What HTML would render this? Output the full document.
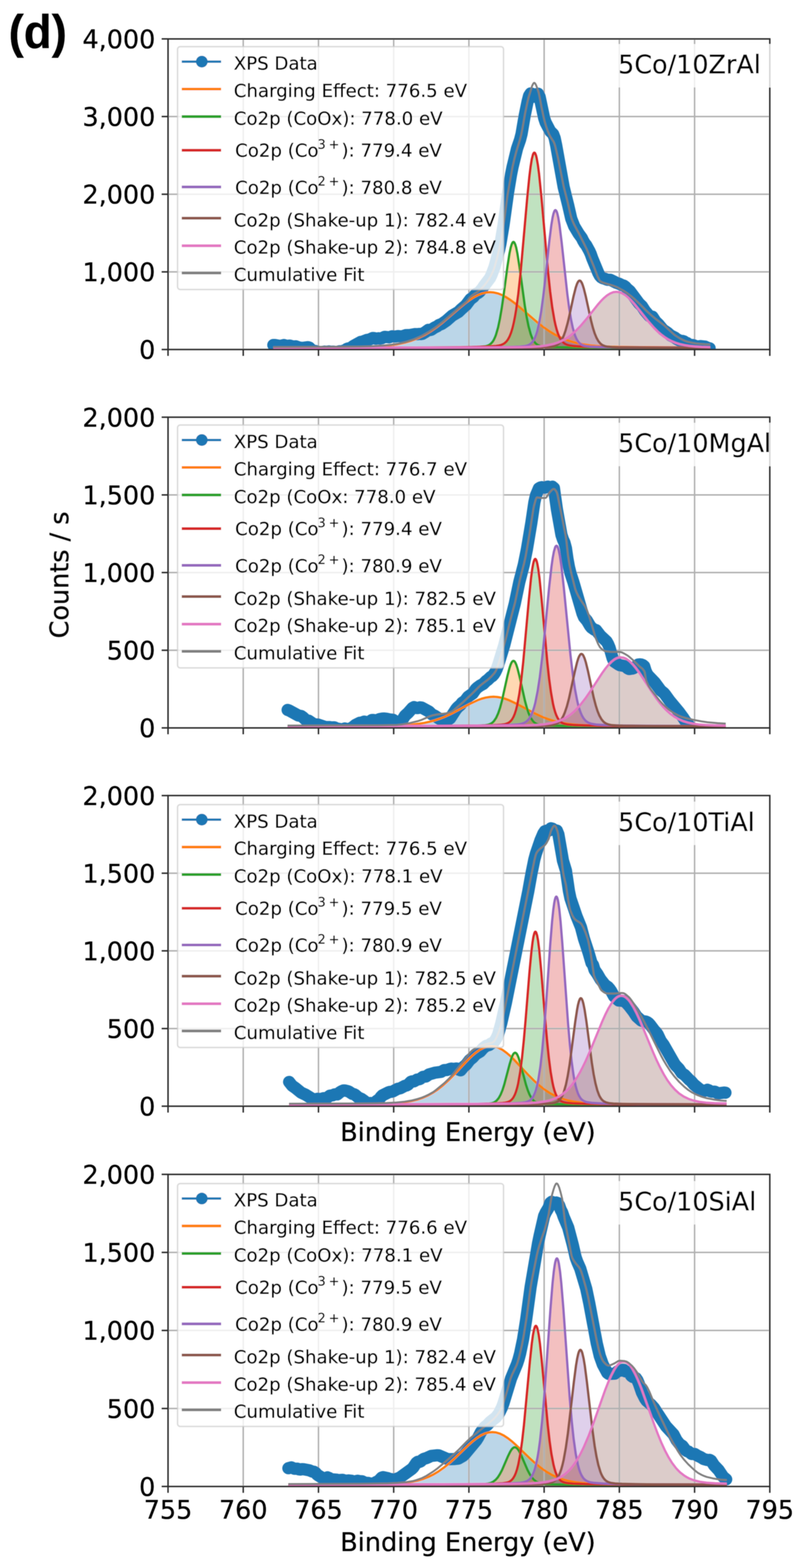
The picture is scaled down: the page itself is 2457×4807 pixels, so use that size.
<!DOCTYPE html><html><head><meta charset="utf-8"><style>html,body{margin:0;padding:0;background:#fff}svg{display:block}text{stroke:#000;stroke-width:0.7px}</style></head><body><svg xmlns="http://www.w3.org/2000/svg" width="2457" height="4807" viewBox="0 0 2457 4807">
<rect width="100%" height="100%" fill="#fff"/>
<defs>
<clipPath id="cp0"><rect x="515.4" y="119.3" width="1845.9" height="952.2"/></clipPath>
<clipPath id="cp1"><rect x="515.4" y="1279.0" width="1845.9" height="952.6"/></clipPath>
<clipPath id="cp2"><rect x="515.4" y="2438.9" width="1845.9" height="952.4"/></clipPath>
<clipPath id="cp3"><rect x="515.4" y="3600.3" width="1845.9" height="956.8"/></clipPath>
<filter id="bl" x="0" y="0" width="2457" height="4807" filterUnits="userSpaceOnUse"><feGaussianBlur stdDeviation="1.0"/></filter>
</defs>
<g filter="url(#bl)">
<g font-family="DejaVu Sans, sans-serif">
<g clip-path="url(#cp0)">
<path d="M838.4 1065.3l209.5-0.7 50.8-0.6 36.9-1.0 32.3-1.7 27.7-2.5 24-3.6 22.2-4.8 21.2-6.3 20.3-8.0 20.3-10.1 19.4-11.8 16.6-11.6 17.5-13.7 52.6-45.1 15.7-13.0 14.8-11.0 12.9-8.4 12.9-6.8 13-5.0 12-2.8 12-1.0 12 1.0 12 2.8 12.9 5.0 12.9 6.8 12.9 8.4 14.8 11.0 15.7 13.0 52.6 45.1 17.5 13.7 16.6 11.6 19.4 11.8 20.3 10.1 20.3 8.0 22.2 6.6 22.1 4.7 24 3.5 27.7 2.5 33.2 1.7 89.6 1.5 216.9 0.8V1071.5H838.4Z" fill="#1f77b4" fill-opacity="0.3"/>
<path d="M838.4 1066.0l406.1-0.2 157.9-0.7 43.3-0.7 27.7-1.1 13.9-1.5 5.5-1.2 4.6-1.6 4.6-2.5 4.6-3.7 4.7-5.5 3.7-6.0 3.6-7.8 2.8-7.3 6.5-22.5 5.5-26.1 5.6-32.4 5.5-37.9 12-89.2 6.4-41.2 3.7-17.7 2.8-9.5 2.8-5.9 1.8-1.8 0.9-0.2 1 0.2 1.8 1.8 2.8 5.9 2.8 9.5 3.6 17.7 6.5 41.2 16.6 121.1 5.6 33.5 5.5 27.1 6.5 23.7 2.7 7.7 3.7 8.3 3.7 6.5 3.7 4.8 3.7 3.6 4.6 3.2 8.3 3.3 12 1.9 20.3 1.2 35.1 0.8 131 0.9 322.2 0.2V1071.5H838.4Z" fill="#ff7f0e" fill-opacity="0.3"/>
<path d="M838.4 1065.9l434.7-0.4 103.4-0.6 69.2-0.9 47.1-1.4 28.6-1.9 8.3-1.3 7.4-1.8 5.5-2.3 5.6-3.4 5.5-5.2 4.6-6.2 4.6-8.5 4.7-11.6 4.6-15.2 3.7-15.4 3.7-18.5 3.7-22.0 6.4-47.4 7.4-68.0 20.3-228.7 6.5-64.4 3.7-29.7 3.6-22.7 3.7-14.6 1.9-4.0 1.8-1.7 1.9 0.6 1.8 2.9 1.9 5.1 1.8 7.3 3.7 20.8 3.7 28.0 7.4 72.4 20.3 228.7 6.4 60.2 6.5 49.1 6.5 37.8 3.7 16.9 3.7 13.9 3.6 11.2 3.7 9.0 4.6 8.5 4.7 6.2 4.6 4.5 4.6 3.1 5.5 2.6 5.6 1.7 15.7 2.5 27.6 1.7 49 1.3 70.1 0.9 271.4 0.8V1071.5H838.4Z" fill="#2ca02c" fill-opacity="0.3"/>
<path d="M838.4 1066.0l489.2-0.3 183.7-0.8 50.7-0.8 33.3-1.4 15.6-1.8 6.5-1.6 4.6-1.9 5.6-3.5 4.6-4.4 4.6-6.5 3.7-7.1 3.7-9.1 3.7-11.7 6.4-27.6 5.6-31.8 6.4-46.9 5.6-47.4 12.9-120.2 6.4-51.3 3.7-22.3 2.8-12.3 2.8-7.8 1.8-2.7 0.9-0.5 1 0.0 1.8 1.6 1.9 3.7 1.8 5.7 2.8 12.3 3.7 22.3 6.4 51.3 17.6 160.1 5.5 42.0 5.5 34.5 5.6 26.6 6.4 22.4 3.7 9.1 3.7 7.1 3.7 5.4 4.6 4.8 3.7 2.7 3.7 2.0 4.6 1.7 5.6 1.3 14.7 1.8 24.9 1.1 42.5 0.9 61.8 0.6 238.2 0.5V1071.5H838.4Z" fill="#d62728" fill-opacity="0.3"/>
<path d="M838.4 1066.0l738.4-0.4 91.4-1.1 17.5-0.8 11.1-1.6 5.5-1.5 4.6-2.0 4.6-3.0 3.7-3.3 3.7-4.3 3.7-5.5 6.5-13.2 5.5-15.5 6.5-23.0 5.5-23.6 12.9-59.9 6.5-25.5 3.7-11.0 2.8-5.8 2.7-3.7 2.8-1.2 2.8 1.2 3.7 5.4 2.7 6.6 3.7 11.7 5.6 22.3 16.6 76.0 5.5 21.3 5.5 17.4 5.6 13.5 5.5 9.9 6.5 7.8 3.7 3.1 3.7 2.3 7.3 2.9 8.4 1.6 12 1.0 18.4 0.6 88.6 0.9 194.8 0.3V1071.5H838.4Z" fill="#9467bd" fill-opacity="0.3"/>
<path d="M838.4 1065.9l486.4-0.3 230.8-0.8 46.1-0.6 30.5-1.0 24-1.5 20.3-2.6 21.2-4.5 9.2-2.9 9.3-3.5 16.6-8.2 8.3-5.2 8.3-5.9 15.7-13.4 16.6-17.2 15.7-18.5 36-45.4 10.1-11.6 8.3-8.4 10.2-8.7 10.1-6.3 9.3-3.6 9.2-1.2 8.3 1.0 9.2 3.3 9.3 5.5 10.1 8.3 8.3 8.2 10.2 11.3 40.6 51.0 19.4 22.1 11 11.0 10.2 8.9 10.1 7.7 10.2 6.6 12 6.3 12 5.0 12.9 4.0 14.8 3.4 14.7 2.3 17.6 1.7 20.3 1.2 26.8 0.8V1071.5H838.4Z" fill="#8c564b" fill-opacity="0.3"/>
<path d="M515.4 119.3V1071.5M746.1 119.3V1071.5M976.9 119.3V1071.5M1207.6 119.3V1071.5M1438.3 119.3V1071.5M1669.1 119.3V1071.5M1899.8 119.3V1071.5M2130.6 119.3V1071.5M2361.3 119.3V1071.5M515.4 1071.5H2361.3M515.4 833.5H2361.3M515.4 595.4H2361.3M515.4 357.3H2361.3M515.4 119.3H2361.3" stroke="#b0b0b0" stroke-width="4.46" fill="none"/>
<path d="M838.4 1057.7l4.6 0.1 13.9 2.5 4.6-0.1 9.2-2.4 9.3 2.7 9.2-1.0 9.2 2.7 9.3-0.4 9.2 3.3 9.2 1.7 18.5-2.4 4.6 1.5 9.2 9.9 4.6 1.1 4.6-0.9 9.3 3.0 4.6 0.5 4.6 0.3 9.2-2.0 4.6 0.7 9.3-1.2 4.6 1.0 9.2-0.4 9.3 1.5 9.2-2.6 4.6 0.6 13.8-4.4 4.7-3.8 4.6-1.1 4.6 0.0 9.2-6.9 23.1-12.8 4.6-0.7 13.8-5.2 9.3-1.8 9.2-4.4 4.6 0.1 4.6 2.1 9.3-1.4 4.6 1.0 4.6-0.9 9.2-4.5 13.9 1.5 9.2-3.3 9.2 0.9 9.3-1.4 9.2 0.9 4.6-0.8 9.2-3.0 13.9-0.5 13.8-2.7 9.2 0.1 4.7-0.7 4.6 0.5 4.6-0.7 9.2-5.4 9.3-6.8 4.6 0.5 4.6-0.9 9.2-6.3 9.2-4.4 4.7-3.6 9.2-3.7 13.8-9.5 18.5-16.2 18.4-10.6 9.3-9.1 13.8-11.7 13.9-18.5 9.2-6.8 4.6-5.9 4.6-4.3 4.6-1.8 4.7-3.5 9.2-11.0 4.6-7.2 18.5-24.3 4.6-9.5 9.2-24.4 13.8-50.8 4.7-22.0 9.2-55.5 13.8-99.2 9.3-56.1 4.6-22.9 13.8-56.6 9.3-27.1 4.6-18.1 9.2-53.9 9.2-45.0 4.6-17.7 4.7-7.2 4.6 1.2 4.6 8.5 4.6 0.3 4.6-6.4 4.6-2.9 4.6 9.3 13.9 65.3 4.6 13.7 13.8 26.4 9.3 9.3 4.6 12.2 4.6 22.0 23.1 128.3 13.8 55.7 9.3 40.8 9.2 23.7 13.8 22.8 9.3 12.6 4.6 9.4 4.6 7.7 4.6 5.6 9.2 16.7 4.6 10.0 4.7 13.4 18.4 44.5 4.6 8.5 4.6 5.1 4.7 2.8 4.6 1.0 9.2 3.7 9.2 0.0 18.5 9.2 9.2 3.3 9.3 4.4 4.6 1.3 4.6 3.3 4.6 5.4 9.2 7.7 27.7 37.4 9.2 8.8 9.3 14.4 13.8 16.1 9.2 2.0 9.3 14.3 9.2 8.8 13.9 16.7 13.8 9.3 9.2 8.2 13.9 7.0 4.6 3.7 9.2 4.9 4.6 2.0 4.6-0.7 4.7 1.6 4.6 3.6 4.6 1.4 9.2 6.3 9.2-0.4 9.3 4.0 4.6 0.6 9.2-1.2 13.9 1.6 9.2 4.3 4.6 0.7" fill="none" stroke="#1f77b4" stroke-width="37.5" stroke-linejoin="round" stroke-linecap="round"/>
<path d="M838.4 1065.3l209.5-0.7 50.8-0.6 36.9-1.0 32.3-1.7 27.7-2.5 24-3.6 22.2-4.8 21.2-6.3 20.3-8.0 20.3-10.1 19.4-11.8 16.6-11.6 17.5-13.7 52.6-45.1 15.7-13.0 14.8-11.0 12.9-8.4 12.9-6.8 13-5.0 12-2.8 12-1.0 12 1.0 12 2.8 12.9 5.0 12.9 6.8 12.9 8.4 14.8 11.0 15.7 13.0 52.6 45.1 17.5 13.7 16.6 11.6 19.4 11.8 20.3 10.1 20.3 8.0 22.2 6.6 22.1 4.7 24 3.5 27.7 2.5 33.2 1.7 89.6 1.5 216.9 0.8" fill="none" stroke="#ff7f0e" stroke-width="7.0" stroke-linejoin="round"/>
<path d="M838.4 1066.0l406.1-0.2 157.9-0.7 43.3-0.7 27.7-1.1 13.9-1.5 5.5-1.2 4.6-1.6 4.6-2.5 4.6-3.7 4.7-5.5 3.7-6.0 3.6-7.8 2.8-7.3 6.5-22.5 5.5-26.1 5.6-32.4 5.5-37.9 12-89.2 6.4-41.2 3.7-17.7 2.8-9.5 2.8-5.9 1.8-1.8 0.9-0.2 1 0.2 1.8 1.8 2.8 5.9 2.8 9.5 3.6 17.7 6.5 41.2 16.6 121.1 5.6 33.5 5.5 27.1 6.5 23.7 2.7 7.7 3.7 8.3 3.7 6.5 3.7 4.8 3.7 3.6 4.6 3.2 8.3 3.3 12 1.9 20.3 1.2 35.1 0.8 131 0.9 322.2 0.2" fill="none" stroke="#2ca02c" stroke-width="7.0" stroke-linejoin="round"/>
<path d="M838.4 1065.9l434.7-0.4 103.4-0.6 69.2-0.9 47.1-1.4 28.6-1.9 8.3-1.3 7.4-1.8 5.5-2.3 5.6-3.4 5.5-5.2 4.6-6.2 4.6-8.5 4.7-11.6 4.6-15.2 3.7-15.4 3.7-18.5 3.7-22.0 6.4-47.4 7.4-68.0 20.3-228.7 6.5-64.4 3.7-29.7 3.6-22.7 3.7-14.6 1.9-4.0 1.8-1.7 1.9 0.6 1.8 2.9 1.9 5.1 1.8 7.3 3.7 20.8 3.7 28.0 7.4 72.4 20.3 228.7 6.4 60.2 6.5 49.1 6.5 37.8 3.7 16.9 3.7 13.9 3.6 11.2 3.7 9.0 4.6 8.5 4.7 6.2 4.6 4.5 4.6 3.1 5.5 2.6 5.6 1.7 15.7 2.5 27.6 1.7 49 1.3 70.1 0.9 271.4 0.8" fill="none" stroke="#d62728" stroke-width="7.0" stroke-linejoin="round"/>
<path d="M838.4 1066.0l489.2-0.3 183.7-0.8 50.7-0.8 33.3-1.4 15.6-1.8 6.5-1.6 4.6-1.9 5.6-3.5 4.6-4.4 4.6-6.5 3.7-7.1 3.7-9.1 3.7-11.7 6.4-27.6 5.6-31.8 6.4-46.9 5.6-47.4 12.9-120.2 6.4-51.3 3.7-22.3 2.8-12.3 2.8-7.8 1.8-2.7 0.9-0.5 1 0.0 1.8 1.6 1.9 3.7 1.8 5.7 2.8 12.3 3.7 22.3 6.4 51.3 17.6 160.1 5.5 42.0 5.5 34.5 5.6 26.6 6.4 22.4 3.7 9.1 3.7 7.1 3.7 5.4 4.6 4.8 3.7 2.7 3.7 2.0 4.6 1.7 5.6 1.3 14.7 1.8 24.9 1.1 42.5 0.9 61.8 0.6 238.2 0.5" fill="none" stroke="#9467bd" stroke-width="7.0" stroke-linejoin="round"/>
<path d="M838.4 1066.0l738.4-0.4 91.4-1.1 17.5-0.8 11.1-1.6 5.5-1.5 4.6-2.0 4.6-3.0 3.7-3.3 3.7-4.3 3.7-5.5 6.5-13.2 5.5-15.5 6.5-23.0 5.5-23.6 12.9-59.9 6.5-25.5 3.7-11.0 2.8-5.8 2.7-3.7 2.8-1.2 2.8 1.2 3.7 5.4 2.7 6.6 3.7 11.7 5.6 22.3 16.6 76.0 5.5 21.3 5.5 17.4 5.6 13.5 5.5 9.9 6.5 7.8 3.7 3.1 3.7 2.3 7.3 2.9 8.4 1.6 12 1.0 18.4 0.6 88.6 0.9 194.8 0.3" fill="none" stroke="#8c564b" stroke-width="7.0" stroke-linejoin="round"/>
<path d="M838.4 1065.9l486.4-0.3 230.8-0.8 46.1-0.6 30.5-1.0 24-1.5 20.3-2.6 21.2-4.5 9.2-2.9 9.3-3.5 16.6-8.2 8.3-5.2 8.3-5.9 15.7-13.4 16.6-17.2 15.7-18.5 36-45.4 10.1-11.6 8.3-8.4 10.2-8.7 10.1-6.3 9.3-3.6 9.2-1.2 8.3 1.0 9.2 3.3 9.3 5.5 10.1 8.3 8.3 8.2 10.2 11.3 40.6 51.0 19.4 22.1 11 11.0 10.2 8.9 10.1 7.7 10.2 6.6 12 6.3 12 5.0 12.9 4.0 14.8 3.4 14.7 2.3 17.6 1.7 20.3 1.2 26.8 0.8" fill="none" stroke="#e377c2" stroke-width="7.0" stroke-linejoin="round"/>
<path d="M838.4 1063.8l214.2-0.8 50.7-0.6 36.9-1.1 33.3-1.9 27.7-2.8 24.9-4.1 22.1-5.3 22.2-7.3 21.2-9.2 21.2-11.6 21.3-14.0 12.9-9.6 14.7-11.8 49.9-43.0 19.4-15.7 9.2-11.5 6.5-6.6 5.5-4.2 14.8-9.5 11-10.0 8.3-9.1 7.4-9.5 6.5-9.6 6.4-11.4 5.6-11.7 3.7-9.3 8.3-29.3 8.3-35.1 6.5-33.8 8.3-53.5 9.2-71.1 15.7-88.2 5.5-24.0 6.5-24.6 10.1-33.0 4.6-17.5 3.7-18.7 8.3-47.5 6.5-31.2 3.7-15.5 11.1-36.2 3.7-7.4 1.8-1.7 0.9-0.3 1 0.2 1.8 1.6 2.8 4.8 3.7 9.4 4.6 14.1 2.7 12.8 5.6 30.4 6.4 30.4 3.7 15.4 4.6 15.4 4.7 13.0 4.6 11.0 3.7 7.1 9.2 14.2 2.8 6.1 2.7 8.7 8.3 35.0 17.6 88.7 12 46.7 8.3 36.9 3.7 13.3 3.7 9.7 4.6 10.1 13.8 25.5 24.9 50.3 22.2 54.1 11.1 29.6 5.5 11.0 2.8 3.1 7.4 3.8 33.2 10.0 11.1 4.4 17.5 9.4 12.9 8.5 12.9 9.9 11.1 9.7 13.9 13.1 20.3 20.7 19.3 17.5 10.2 8.3 25.8 19.6 29.6 27.5 5.5 4.1 12.9 8.0 9.3 4.9 8.3 3.6 6.4 2.1 13.9 3.2 11.1 1.9 10.1 1.2 19.4 1.4 14.8 0.4" fill="none" stroke="#7f7f7f" stroke-width="5.8" stroke-linejoin="round"/>
</g>
<rect x="515.4" y="119.3" width="1845.9" height="952.2" fill="none" stroke="#2a2a2a" stroke-width="4.46"/>
<path d="M515.4 1071.5v19.5M746.1 1071.5v19.5M976.9 1071.5v19.5M1207.6 1071.5v19.5M1438.3 1071.5v19.5M1669.1 1071.5v19.5M1899.8 1071.5v19.5M2130.6 1071.5v19.5M2361.3 1071.5v19.5M515.4 1071.5h-19.5M515.4 833.5h-19.5M515.4 595.4h-19.5M515.4 357.3h-19.5M515.4 119.3h-19.5" stroke="#2a2a2a" stroke-width="4.46"/>
<text x="476.4" y="1100.1" font-size="78" text-anchor="end">0</text>
<text x="476.4" y="862.1" font-size="78" text-anchor="end">1,000</text>
<text x="476.4" y="624.0" font-size="78" text-anchor="end">2,000</text>
<text x="476.4" y="385.9" font-size="78" text-anchor="end">3,000</text>
<text x="476.4" y="147.9" font-size="78" text-anchor="end">4,000</text>
<rect x="1863.0" y="135.0" width="503.9" height="133" fill="#fff" fill-opacity="0.8"/>
<text x="1896.0" y="225.0" font-size="78">5Co/10ZrAl</text>
<rect x="544.7" y="143.0" width="999.8" height="744.5" rx="8" fill="#fff" fill-opacity="0.8" stroke="#ccc" stroke-opacity="0.7" stroke-width="4.5"/>
<path d="M557.6 188.9H678.2" stroke="#1f77b4" stroke-width="7"/>
<path d="M557.6 273.0H678.2" stroke="#ff7f0e" stroke-width="8.2"/>
<path d="M557.6 357.4H678.2" stroke="#2ca02c" stroke-width="8.2"/>
<path d="M557.6 460.7H678.2" stroke="#d62728" stroke-width="8.2"/>
<path d="M557.6 573.2H678.2" stroke="#9467bd" stroke-width="8.2"/>
<path d="M557.6 668.8H678.2" stroke="#8c564b" stroke-width="8.2"/>
<path d="M557.6 753.3H678.2" stroke="#e377c2" stroke-width="8.2"/>
<path d="M557.6 836.8H678.2" stroke="#7f7f7f" stroke-width="8.2"/>
<circle cx="619" cy="188.9" r="18" fill="#1f77b4"/>
<text x="717.0" y="213.0" font-size="55.7">XPS Data</text>
<text x="717.0" y="296.5" font-size="55.7">Charging Effect: 776.5 eV</text>
<text x="717.0" y="381.5" font-size="55.7">Co2p (CoOx): 778.0 eV</text>
<text y="480.3" font-size="55.7"><tspan x="721.0">Co2p (Co</tspan><tspan x="974.2" y="455.5" font-size="39">3</tspan><tspan x="1008.3" font-size="39">+</tspan><tspan x="1047.6" y="480.3">): 779.4 eV</tspan></text>
<text y="593.6" font-size="55.7"><tspan x="721.0">Co2p (Co</tspan><tspan x="974.2" y="568.8" font-size="39">2</tspan><tspan x="1008.3" font-size="39">+</tspan><tspan x="1047.6" y="593.6">): 780.8 eV</tspan></text>
<text x="717.0" y="693.8" font-size="55.7">Co2p (Shake-up 1): 782.4 eV</text>
<text x="717.0" y="777.4" font-size="55.7">Co2p (Shake-up 2): 784.8 eV</text>
<text x="717.0" y="861.0" font-size="55.7">Cumulative Fit</text>
<g clip-path="url(#cp1)">
<path d="M882.3 2225.8l219.6-0.3 87.7-0.7 30.5-0.8 24.9-1.2 21.2-1.7 19.4-2.3 16.6-2.7 15.7-3.4 15.7-4.3 14.8-5.0 16.6-6.5 17.5-8.1 59.1-31.2 23.1-10.8 12.9-4.8 12.9-3.4 12-1.9 11.1-0.6 11 0.7 12 2.0 12 3.2 13 4.8 23 10.8 59.1 31.2 17.5 8.1 17.6 6.9 15.7 5.1 16.6 4.4 17.5 3.6 18.5 2.8 20.3 2.1 22.1 1.5 60 1.7 108.9 0.6 267.7 0.3V2231.6H882.3Z" fill="#1f77b4" fill-opacity="0.3"/>
<path d="M882.3 2226.1l525.1-0.6 67.4-1.1 13.9-1.0 9.2-1.8 4.6-1.6 4.6-2.3 4.6-3.5 3.7-3.9 6.5-9.6 6.4-14.2 5.6-16.4 5.5-20.4 17.5-78.6 5.6-21.8 3.7-11.3 2.7-6.2 2.8-4.1 2.8-1.6 2.8 0.8 1.8 1.9 1.8 3.0 2.8 6.2 3.7 11.3 5.5 21.8 17.6 78.6 5.5 20.4 5.6 16.4 6.4 14.2 6.5 9.6 3.7 3.9 3.7 2.9 4.6 2.5 4.6 1.8 9.2 1.9 12.9 1.0 61.9 1.1 491 0.7V2231.6H882.3Z" fill="#ff7f0e" fill-opacity="0.3"/>
<path d="M882.3 2226.0l419-0.3 162.4-1.1 45.3-1.1 27.6-1.7 8.4-1.0 6.4-1.4 5.5-2.0 4.7-2.6 4.6-3.8 4.6-5.6 4.6-8.2 3.7-8.9 3.7-11.5 3.7-14.6 6.4-34.3 5.6-39.5 6.4-57.8 17.6-194.1 6.4-63.5 3.7-28.0 2.8-15.7 1.8-7.6 1.9-5.2 1.8-2.6 1-0.3 0.9 0.3 1.8 2.6 1.9 5.2 1.8 7.6 2.8 15.7 3.7 28.0 6.4 63.5 17.6 194.1 5.5 50.3 5.6 41.0 6.4 36.1 2.8 11.9 3.7 13.0 3.7 10.2 3.7 7.7 4.6 7.1 4.6 4.8 3.7 2.7 4.6 2.4 5.5 1.8 6.5 1.3 19.4 1.8 34.1 1.3 51.7 0.9 75.7 0.6 305.5 0.5V2231.6H882.3Z" fill="#2ca02c" fill-opacity="0.3"/>
<path d="M882.3 2226.0l447.6-0.4 107.1-0.5 71-0.8 49.9-1.4 28.6-1.8 8.3-1.2 7.4-1.8 5.5-2.0 5.5-3.1 5.6-4.7 5.5-6.9 4.6-8.0 4.7-10.6 4.6-14.0 3.7-13.9 7.3-36.5 6.5-42.2 7.4-60.3 6.4-61.6 14.8-152.1 7.4-65.7 3.7-25.9 3.7-19.7 3.7-12.7 1.8-3.5 1.9-1.5 1.8 0.5 1.9 2.5 1.8 4.4 1.9 6.4 3.6 18.1 4.7 31.4 7.3 65.7 20.3 205.4 7.4 61.7 6.5 43.7 6.5 33.9 3.6 15.3 3.7 12.6 3.7 10.3 3.7 8.3 4.6 8.0 4.6 5.9 3.7 3.6 4.7 3.2 5.5 2.8 5.5 1.8 14.8 2.5 25.8 1.6 47.1 1.4 67.4 0.8 257.5 0.8V2231.6H882.3Z" fill="#d62728" fill-opacity="0.3"/>
<path d="M882.3 2226.1l702.3-0.5 86.8-1.2 16.6-1.0 11.1-1.9 5.5-1.7 4.6-2.3 4.7-3.2 3.6-3.5 3.7-4.5 3.7-5.7 3.7-7.1 3.7-8.6 6.5-19.0 6.4-24.2 18.5-85.1 6.5-26.4 3.6-11.7 2.8-6.6 3.7-5.7 2.8-1.5 2.7 0.8 1.9 1.8 1.8 2.8 3.7 8.4 3.7 11.7 6.5 26.4 17.5 81.3 6.5 24.8 5.5 17.3 5.5 13.5 6.5 11.5 6.5 7.7 3.7 3.0 4.6 2.8 7.4 2.8 9.2 1.8 12.9 1.0 21.2 0.7 97.9 0.9 217.8 0.3V2231.6H882.3Z" fill="#9467bd" fill-opacity="0.3"/>
<path d="M882.3 2225.9l467-0.4 222.4-1.0 44.3-0.7 30.5-1.3 24-2.1 19.4-3.1 11-2.6 10.2-3.1 9.2-3.6 9.2-4.4 8.3-4.8 8.4-5.5 8.3-6.4 8.3-7.4 15.7-16.5 16.6-21.1 15.7-22.7 36-55.2 10.1-14.1 8.3-10.3 10.2-10.6 10.1-7.9 4.6-2.5 4.6-1.9 4.7-1.1 4.6-0.5 8.3 1.1 4.6 1.6 4.6 2.2 9.2 6.5 10.2 9.9 9.2 11.1 10.2 13.8 42.4 64.8 10.2 14.5 10.1 13.4 11.1 13.2 11.1 11.4 11.1 9.8 12 8.7 12.9 7.4 13.8 6.1 14.8 4.6 15.7 3.3 17.5 2.4 21.3 1.7 25.8 1.1 36 0.7V2231.6H882.3Z" fill="#8c564b" fill-opacity="0.3"/>
<path d="M515.4 1279.0V2231.6M746.1 1279.0V2231.6M976.9 1279.0V2231.6M1207.6 1279.0V2231.6M1438.3 1279.0V2231.6M1669.1 1279.0V2231.6M1899.8 1279.0V2231.6M2130.6 1279.0V2231.6M2361.3 1279.0V2231.6M515.4 2231.6H2361.3M515.4 1993.4H2361.3M515.4 1755.3H2361.3M515.4 1517.2H2361.3M515.4 1279.0H2361.3" stroke="#b0b0b0" stroke-width="4.46" fill="none"/>
<path d="M882.3 2176.5l4.6 1.6 27.7 15.2 9.2 1.8 4.6 3.1 9.2 8.4 4.7 2.0 4.6 0.8 13.8 9.4 4.6 2.0 9.3 0.1 23 7.9 13.9 0.3 4.6 1.0 9.2-0.4 9.3 4.5 4.6 0.1 9.2 2.0 9.2-3.0 9.3 2.8 4.6-1.6 9.2-4.2 9.2-7.5 13.9-7.1 4.6-0.1 9.2-3.4 9.3 2.2 4.6-0.6 9.2-6.5 4.6-0.1 4.6 1.6 4.6-0.2 9.3-3.9 9.2-1.7 4.6-0.3 9.2 1.0 9.3 2.1 9.2 0.6 9.2 6.3 4.6 1.8 9.3-1.0 4.6-4.5 9.2-14.9 9.3-8.4 13.8-15.4 4.6-2.6 9.2 3.1 4.7-0.5 4.6-1.8 4.6 0.6 23.1 12.4 9.2 8.9 9.2 4.5 13.9 9.0 4.6 1.2 4.6-0.7 18.5 1.0 4.6-3.2 18.4-28.1 4.6-5.5 9.3-8.1 4.6-6.1 9.2-6.3 9.2-12.3 13.9-9.7 9.2-13.1 4.6-4.6 9.3-6.7 9.2-5.0 9.2-9.2 4.6-3.1 9.3-8.9 4.6-2.7 4.6-5.0 4.6-7.1 4.6-9.7 4.6-12.9 18.5-60.4 32.3-127.3 13.8-65.9 13.9-53.6 9.2-45.6 13.9-82.6 9.2-62.4 4.6-20.8 9.2-22.1 4.7-2.8 4.6-1.0 9.2 1.8 4.6-2.5 4.6-1.0 4.6 2.4 4.7-0.4 4.6-1.7 4.6 3.9 9.2 65.4 13.9 78.3 4.6 13.8 4.6 10.0 4.6 17.2 4.6 32.1 4.6 25.3 4.6 18.7 9.3 28.6 27.7 95.4 4.6 11.0 9.2 11.0 9.2 15.6 4.7 5.7 9.2 6.5 4.6 0.9 13.8 17.6 18.5 17.3 4.6 7.9 4.6 11.0 9.3 32.3 4.6 10.5 13.8 9.3 4.6 2.1 13.9 2.3 4.6 2.5 4.6 4.6 4.6 2.1 9.3-1.3 4.6-1.5 13.8-10.9 4.6-0.7 4.6 0.4 4.7 1.7 4.6 3.6 4.6 14.9 4.6 9.8 4.6 5.8 18.5 19.1 18.4 24.9 9.3 7.4 4.6 5.5 13.8 19.1 27.7 33.1 13.9 18.8 4.6 7.4 13.8 16.5 9.2 13.9 4.7 5.3 4.6 3.5 9.2 5.6 4.6 1.9 9.2-2.3 4.7 1.0 9.2 4.5 4.6-0.8 9.2 4.1 4.6-0.6 9.3 1.7 9.2-3.2 4.6 0.7 4.6-0.4 4.7-2.0 4.6 0.4" fill="none" stroke="#1f77b4" stroke-width="37.5" stroke-linejoin="round" stroke-linecap="round"/>
<path d="M882.3 2225.8l219.6-0.3 87.7-0.7 30.5-0.8 24.9-1.2 21.2-1.7 19.4-2.3 16.6-2.7 15.7-3.4 15.7-4.3 14.8-5.0 16.6-6.5 17.5-8.1 59.1-31.2 23.1-10.8 12.9-4.8 12.9-3.4 12-1.9 11.1-0.6 11 0.7 12 2.0 12 3.2 13 4.8 23 10.8 59.1 31.2 17.5 8.1 17.6 6.9 15.7 5.1 16.6 4.4 17.5 3.6 18.5 2.8 20.3 2.1 22.1 1.5 60 1.7 108.9 0.6 267.7 0.3" fill="none" stroke="#ff7f0e" stroke-width="7.0" stroke-linejoin="round"/>
<path d="M882.3 2226.1l525.1-0.6 67.4-1.1 13.9-1.0 9.2-1.8 4.6-1.6 4.6-2.3 4.6-3.5 3.7-3.9 6.5-9.6 6.4-14.2 5.6-16.4 5.5-20.4 17.5-78.6 5.6-21.8 3.7-11.3 2.7-6.2 2.8-4.1 2.8-1.6 2.8 0.8 1.8 1.9 1.8 3.0 2.8 6.2 3.7 11.3 5.5 21.8 17.6 78.6 5.5 20.4 5.6 16.4 6.4 14.2 6.5 9.6 3.7 3.9 3.7 2.9 4.6 2.5 4.6 1.8 9.2 1.9 12.9 1.0 61.9 1.1 491 0.7" fill="none" stroke="#2ca02c" stroke-width="7.0" stroke-linejoin="round"/>
<path d="M882.3 2226.0l419-0.3 162.4-1.1 45.3-1.1 27.6-1.7 8.4-1.0 6.4-1.4 5.5-2.0 4.7-2.6 4.6-3.8 4.6-5.6 4.6-8.2 3.7-8.9 3.7-11.5 3.7-14.6 6.4-34.3 5.6-39.5 6.4-57.8 17.6-194.1 6.4-63.5 3.7-28.0 2.8-15.7 1.8-7.6 1.9-5.2 1.8-2.6 1-0.3 0.9 0.3 1.8 2.6 1.9 5.2 1.8 7.6 2.8 15.7 3.7 28.0 6.4 63.5 17.6 194.1 5.5 50.3 5.6 41.0 6.4 36.1 2.8 11.9 3.7 13.0 3.7 10.2 3.7 7.7 4.6 7.1 4.6 4.8 3.7 2.7 4.6 2.4 5.5 1.8 6.5 1.3 19.4 1.8 34.1 1.3 51.7 0.9 75.7 0.6 305.5 0.5" fill="none" stroke="#d62728" stroke-width="7.0" stroke-linejoin="round"/>
<path d="M882.3 2226.0l447.6-0.4 107.1-0.5 71-0.8 49.9-1.4 28.6-1.8 8.3-1.2 7.4-1.8 5.5-2.0 5.5-3.1 5.6-4.7 5.5-6.9 4.6-8.0 4.7-10.6 4.6-14.0 3.7-13.9 7.3-36.5 6.5-42.2 7.4-60.3 6.4-61.6 14.8-152.1 7.4-65.7 3.7-25.9 3.7-19.7 3.7-12.7 1.8-3.5 1.9-1.5 1.8 0.5 1.9 2.5 1.8 4.4 1.9 6.4 3.6 18.1 4.7 31.4 7.3 65.7 20.3 205.4 7.4 61.7 6.5 43.7 6.5 33.9 3.6 15.3 3.7 12.6 3.7 10.3 3.7 8.3 4.6 8.0 4.6 5.9 3.7 3.6 4.7 3.2 5.5 2.8 5.5 1.8 14.8 2.5 25.8 1.6 47.1 1.4 67.4 0.8 257.5 0.8" fill="none" stroke="#9467bd" stroke-width="7.0" stroke-linejoin="round"/>
<path d="M882.3 2226.1l702.3-0.5 86.8-1.2 16.6-1.0 11.1-1.9 5.5-1.7 4.6-2.3 4.7-3.2 3.6-3.5 3.7-4.5 3.7-5.7 3.7-7.1 3.7-8.6 6.5-19.0 6.4-24.2 18.5-85.1 6.5-26.4 3.6-11.7 2.8-6.6 3.7-5.7 2.8-1.5 2.7 0.8 1.9 1.8 1.8 2.8 3.7 8.4 3.7 11.7 6.5 26.4 17.5 81.3 6.5 24.8 5.5 17.3 5.5 13.5 6.5 11.5 6.5 7.7 3.7 3.0 4.6 2.8 7.4 2.8 9.2 1.8 12.9 1.0 21.2 0.7 97.9 0.9 217.8 0.3" fill="none" stroke="#8c564b" stroke-width="7.0" stroke-linejoin="round"/>
<path d="M882.3 2225.9l467-0.4 222.4-1.0 44.3-0.7 30.5-1.3 24-2.1 19.4-3.1 11-2.6 10.2-3.1 9.2-3.6 9.2-4.4 8.3-4.8 8.4-5.5 8.3-6.4 8.3-7.4 15.7-16.5 16.6-21.1 15.7-22.7 36-55.2 10.1-14.1 8.3-10.3 10.2-10.6 10.1-7.9 4.6-2.5 4.6-1.9 4.7-1.1 4.6-0.5 8.3 1.1 4.6 1.6 4.6 2.2 9.2 6.5 10.2 9.9 9.2 11.1 10.2 13.8 42.4 64.8 10.2 14.5 10.1 13.4 11.1 13.2 11.1 11.4 11.1 9.8 12 8.7 12.9 7.4 13.8 6.1 14.8 4.6 15.7 3.3 17.5 2.4 21.3 1.7 25.8 1.1 36 0.7" fill="none" stroke="#e377c2" stroke-width="7.0" stroke-linejoin="round"/>
<path d="M882.3 2224.3l280.5-0.7 53.6-1.0 15.7-1.6 26.7-4.7 22.2-5.4 11.1-3.6 24.9-10.8 11.1-3.7 12-2.4 27.6-3.6 13.9-3.3 5.5-2.7 5.6-4.0 27.7-24.1 23-21.5 28.6-28.4 7.4-6.2 17.6-13.2 10.1-9.3 9.2-10.3 3.7-5.6 2.8-5.6 6.5-18.6 17.5-58.6 6.5-24.2 12.9-53.0 13.8-51.5 14.8-70.3 12.9-49.9 4.6-20.8 11.1-63.5 12.9-83.2 1.9-9.0 4.6-17.0 2.8-6.7 1.8-1.5 12 1.8 12.9 0.1 1.9-0.4 2.7-2.8 8.3-13.0 8.3-8.9 2.8-2.0 1.9-0.5 1.8 0.2 1.9 1.2 3.6 4.6 2.8 5.1 1.9 7.1 24.9 124.6 2.7 19.5 4.7 42.9 4.6 28.2 5.5 26.2 12 47.2 3.7 9.9 5.5 11.2 9.3 15.3 11 15.7 6.5 12.8 8.3 22.9 17.6 60.6 8.3 20.1 5.5 9.8 3.7 3.9 5.5 4.6 4.6 2.8 3.7 1.2 16.6 1.9 26.8 0.1 6.5 1.5 6.4 3.1 11.1 6.4 5.5 4.3 10.2 8.9 19.4 19.0 10.1 8.1 4.6 5.9 1.9 3.3 0.9 3.1 3.7 21.9 1.9 5.4 6.4 14.0 7.4 11.2 24 30.5 12 13.6 16.6 15.2 7.4 5.7 7.4 4.9 13.8 7.7 12 5.1 15.7 4.6 22.2 4.9 23 4.4 18.5 2.7 31.4 2.9 24.9 1.3" fill="none" stroke="#7f7f7f" stroke-width="5.8" stroke-linejoin="round"/>
</g>
<rect x="515.4" y="1279.0" width="1845.9" height="952.6" fill="none" stroke="#2a2a2a" stroke-width="4.46"/>
<path d="M515.4 2231.6v19.5M746.1 2231.6v19.5M976.9 2231.6v19.5M1207.6 2231.6v19.5M1438.3 2231.6v19.5M1669.1 2231.6v19.5M1899.8 2231.6v19.5M2130.6 2231.6v19.5M2361.3 2231.6v19.5M515.4 2231.6h-19.5M515.4 1993.4h-19.5M515.4 1755.3h-19.5M515.4 1517.2h-19.5M515.4 1279.0h-19.5" stroke="#2a2a2a" stroke-width="4.46"/>
<text x="476.4" y="2260.2" font-size="78" text-anchor="end">0</text>
<text x="476.4" y="2022.0" font-size="78" text-anchor="end">500</text>
<text x="476.4" y="1783.9" font-size="78" text-anchor="end">1,000</text>
<text x="476.4" y="1545.8" font-size="78" text-anchor="end">1,500</text>
<text x="476.4" y="1307.6" font-size="78" text-anchor="end">2,000</text>
<rect x="1863.0" y="1296.2" width="535.2" height="133" fill="#fff" fill-opacity="0.8"/>
<text x="1896.0" y="1386.2" font-size="78">5Co/10MgAl</text>
<rect x="544.7" y="1303.0" width="999.8" height="744.5" rx="8" fill="#fff" fill-opacity="0.8" stroke="#ccc" stroke-opacity="0.7" stroke-width="4.5"/>
<path d="M557.6 1348.9H678.2" stroke="#1f77b4" stroke-width="7"/>
<path d="M557.6 1433.0H678.2" stroke="#ff7f0e" stroke-width="8.2"/>
<path d="M557.6 1517.4H678.2" stroke="#2ca02c" stroke-width="8.2"/>
<path d="M557.6 1620.7H678.2" stroke="#d62728" stroke-width="8.2"/>
<path d="M557.6 1733.2H678.2" stroke="#9467bd" stroke-width="8.2"/>
<path d="M557.6 1828.8H678.2" stroke="#8c564b" stroke-width="8.2"/>
<path d="M557.6 1913.3H678.2" stroke="#e377c2" stroke-width="8.2"/>
<path d="M557.6 1996.8H678.2" stroke="#7f7f7f" stroke-width="8.2"/>
<circle cx="619" cy="1348.9" r="18" fill="#1f77b4"/>
<text x="717.0" y="1373.0" font-size="55.7">XPS Data</text>
<text x="717.0" y="1456.5" font-size="55.7">Charging Effect: 776.7 eV</text>
<text x="717.0" y="1541.5" font-size="55.7">Co2p (CoOx: 778.0 eV</text>
<text y="1640.3" font-size="55.7"><tspan x="721.0">Co2p (Co</tspan><tspan x="974.2" y="1615.5" font-size="39">3</tspan><tspan x="1008.3" font-size="39">+</tspan><tspan x="1047.6" y="1640.3">): 779.4 eV</tspan></text>
<text y="1753.6" font-size="55.7"><tspan x="721.0">Co2p (Co</tspan><tspan x="974.2" y="1728.8" font-size="39">2</tspan><tspan x="1008.3" font-size="39">+</tspan><tspan x="1047.6" y="1753.6">): 780.9 eV</tspan></text>
<text x="717.0" y="1853.8" font-size="55.7">Co2p (Shake-up 1): 782.5 eV</text>
<text x="717.0" y="1937.4" font-size="55.7">Co2p (Shake-up 2): 785.1 eV</text>
<text x="717.0" y="2021.0" font-size="55.7">Cumulative Fit</text>
<text transform="translate(209.5 1762.5) rotate(-90)" font-size="78" text-anchor="middle">Counts / s</text>
<g clip-path="url(#cp2)">
<path d="M886.9 3385.2l212.3-0.7 84.9-1.4 29.5-1.5 24.9-2.4 21.3-3.4 19.3-4.6 16.7-5.5 15.6-6.8 15.7-8.6 14.8-9.8 16.6-13.1 17.6-16.0 16.6-16.8 42.4-45.3 12-11.6 11.1-9.6 12.9-9.4 12-6.4 6.5-2.4 5.5-1.5 11.1-1.2 11.1 1.2 5.5 1.5 6.5 2.4 12 6.4 12.9 9.4 11.1 9.6 12 11.6 42.4 45.3 17.5 17.7 17.6 15.9 17.5 13.6 15.7 10.2 16.6 8.6 17.6 7.1 18.4 5.5 20.3 4.1 22.2 2.9 26.7 2.1 33.3 1.2 111.6 1.2 274.2 0.7V3391.3H886.9Z" fill="#1f77b4" fill-opacity="0.3"/>
<path d="M886.9 3385.8l529.8-0.4 68.3-0.9 12.9-0.7 9.2-1.4 4.6-1.3 4.6-2.0 3.7-2.3 3.7-3.1 6.5-8.0 5.5-10.1 5.6-13.6 5.5-17.1 16.6-62.9 5.5-18.1 2.8-7.0 2.8-5.3 2.8-3.2 2.7-1.2 2.8 1.2 2.8 3.2 2.7 5.3 2.8 7.0 5.5 18.1 16.6 62.9 5.6 17.1 5.5 13.6 5.6 10.1 6.4 8.0 3.7 3.1 3.7 2.3 8.3 3.1 8.3 1.4 12.9 0.8 62.8 0.9 492.9 0.5V3391.3H886.9Z" fill="#ff7f0e" fill-opacity="0.3"/>
<path d="M886.9 3385.7l418.1-0.3 161.5-1.0 46.1-1.2 28.7-1.7 8.3-1.1 6.4-1.4 4.6-1.7 4.7-2.5 4.6-3.9 4.6-5.8 4.6-8.7 3.7-9.6 3.7-12.6 2.8-11.7 6.4-36.7 5.6-42.8 5.5-53.6 5.5-62.8 12-147.8 5.6-59.2 3.7-30.8 2.7-17.0 2.8-10.9 1.8-3.8 1-0.7 0.9 0.0 1.8 2.2 2.8 8.9 2.8 15.0 3.7 28.6 6.4 67.7 12 147.8 5.6 62.8 5.5 53.6 5.5 42.8 5.6 32.2 2.7 12.6 3.7 13.4 3.7 10.3 3.7 7.7 3.7 5.7 4.6 5.0 3.7 2.7 4.6 2.3 5.6 1.8 6.4 1.2 20.3 1.8 35.1 1.3 51.7 0.9 75.7 0.5 309.2 0.5V3391.3H886.9Z" fill="#2ca02c" fill-opacity="0.3"/>
<path d="M886.9 3385.7l458.7-0.3 174.4-1.3 48.9-1.3 31.4-2.0 9.3-1.4 6.4-1.5 5.6-2.3 4.6-2.9 4.6-4.3 4.6-6.5 4.6-9.5 3.7-10.5 3.7-13.6 3.7-17.5 6.5-41.5 5.5-48.3 6.4-71.5 5.6-72.6 12.9-184.1 5.5-68.2 3.7-35.8 2.8-20.1 1.9-9.7 1.8-6.6 1.8-3.3 1-0.4 0.9 0.4 1.8 3.3 1.9 6.6 1.8 9.7 2.8 20.1 3.7 35.8 5.5 68.2 17.6 245.2 5.5 64.2 5.5 52.3 5.6 40.4 2.7 15.9 3.7 17.5 3.7 13.6 3.7 10.5 3.7 7.8 4.6 7.1 3.7 3.9 4.6 3.4 4.6 2.3 5.6 1.7 15.7 2.4 29.5 1.8 46.2 1.3 68.3 0.8 269.5 0.7V3391.3H886.9Z" fill="#d62728" fill-opacity="0.3"/>
<path d="M886.9 3385.8l515-0.2 188.3-0.5 52.6-0.6 34.1-1.0 16.6-1.3 6.5-1.1 4.6-1.4 5.6-2.6 4.6-3.4 3.7-4.0 3.7-5.4 3.6-7.2 3.7-9.3 6.5-22.8 5.5-26.8 5.6-33.8 17.5-132.6 5.6-36.4 2.7-14.4 2.8-10.9 2.8-7.1 1.8-2.4 0.9-0.4 0.9 0.0 1.9 1.4 2.8 5.7 2.7 9.7 3.7 18.4 5.6 36.4 16.6 126.4 5.5 34.9 5.6 28.0 5.5 21.1 5.5 14.9 2.8 5.6 3.7 5.8 3.7 4.3 3.7 3.1 7.4 3.8 9.2 2.3 13.8 1.3 24 0.9 98.8 1.1 224.3 0.4V3391.3H886.9Z" fill="#9467bd" fill-opacity="0.3"/>
<path d="M886.9 3385.5l466.1-0.6 132.9-0.7 88.6-0.9 44.3-1.3 29.5-1.9 24-3.4 10.2-2.2 9.2-2.7 10.2-3.8 10.1-4.9 9.2-5.6 9.3-6.9 8.3-7.4 8.3-8.7 8.3-10.1 8.3-11.6 7.4-11.5 8.3-14.4 8.3-15.9 8.3-17.2 15.7-35.7 36-87.4 10.1-22.4 8.3-16.4 10.2-16.9 5.5-7.4 4.6-5.2 5.6-4.8 4.6-2.8 4.6-1.7 4.6-0.6 3.7 0.4 4.6 1.4 4.6 2.6 4.7 3.8 4.6 4.7 4.6 5.7 10.1 15.8 9.3 17.6 9.2 19.9 42.5 102.4 10.1 23.0 10.2 21.2 12 22.5 11 18.0 11.1 15.3 12 13.6 12.9 11.7 13.9 9.4 14.7 7.2 15.7 5.3 17.6 3.7 21.2 2.7 25.8 1.6 37 1.1V3391.3H886.9Z" fill="#8c564b" fill-opacity="0.3"/>
<path d="M515.4 2438.9V3391.3M746.1 2438.9V3391.3M976.9 2438.9V3391.3M1207.6 2438.9V3391.3M1438.3 2438.9V3391.3M1669.1 2438.9V3391.3M1899.8 2438.9V3391.3M2130.6 2438.9V3391.3M2361.3 2438.9V3391.3M515.4 3391.3H2361.3M515.4 3153.2H2361.3M515.4 2915.1H2361.3M515.4 2677.0H2361.3M515.4 2438.9H2361.3" stroke="#b0b0b0" stroke-width="4.46" fill="none"/>
<path d="M886.9 3316.9l9.2 11.5 9.2 6.4 18.5 15.0 13.8 6.3 23.1 14.4 4.6 1.0 9.3-3.1 9.2 1.1 9.2-2.9 9.3-0.5 9.2-7.0 9.2-1.3 4.6-2.3 4.6-0.9 4.7 0.5 9.2-7.4 4.6-2.6 4.6-2.0 4.6 0.0 9.3 2.2 4.6 2.0 9.2 6.1 4.6 0.9 4.6 2.5 9.3 8.0 9.2 3.9 9.2 6.4 4.6 4.2 4.7 2.6 4.6 0.3 4.6-0.7 9.2 1.4 4.6-2.5 4.6-4.6 9.3-6.7 4.6-6.4 4.6-4.6 18.5-9.2 4.6-1.5 4.6-0.3 4.6-1.3 13.8-7.5 9.3-2.2 13.8-7.4 4.6-1.0 4.7-2.4 9.2-9.1 4.6-1.3 4.6 0.3 9.2-5.4 9.3-2.0 9.2-6.5 9.2-1.1 9.3-6.5 18.4-5.2 18.5-2.5 9.2-5.2 9.2-0.6 9.3-3.3 4.6-0.9 4.6 1.0 9.2-1.2 4.6 0.3 4.7 3.5 4.6 1.6 9.2-11.0 4.6-3.4 4.6-4.9 9.3-12.2 9.2-7.5 9.2-10.3 13.9-8.3 9.2-10.4 9.2-7.0 9.2-2.7 4.7-3.7 9.2-4.7 4.6-6.0 4.6-7.9 4.6-10.6 9.3-33.6 13.8-60.8 69.2-344.6 9.3-51.9 9.2-45.1 4.6-17.0 13.9-40.9 9.2-21.5 4.6-6.9 4.6-1.7 4.6 1.0 4.6-2.2 4.7-6.1 4.6 1.3 4.6 3.6 9.2 2.5 4.6 11.4 13.9 80.2 9.2 30.6 9.2 62.9 4.6 22.1 18.5 54.7 13.8 34.2 9.3 35.3 13.8 42.0 9.3 32.1 4.6 6.2 4.6 14.9 9.2 13.4 9.2 15.8 13.9 17.4 9.2 6.2 4.6 5.4 4.6 6.4 9.3 16.6 9.2 8.7 4.6 4.1 13.9 1.2 4.6 1.7 4.6 3.9 9.2 10.0 13.9 18.1 9.2 14.1 13.8 12.3 4.7 1.7 9.2 1.4 4.6 2.0 4.6 3.2 4.6 5.0 13.9 18.5 4.6 4.2 4.6 7.0 9.2 19.5 9.3 12.6 32.3 56.7 4.6 6.2 9.2 9.4 9.2 13.7 9.3 6.2 13.8 14.5 4.6 3.2 9.3 11.0 18.4 15.0 4.6 2.4 9.3 2.3 4.6-1.1 4.6-2.3 4.6 1.7 4.6 3.3 4.6 0.8 9.3 0.0 9.2 5.4 18.5-2.6 4.6 0.4" fill="none" stroke="#1f77b4" stroke-width="37.5" stroke-linejoin="round" stroke-linecap="round"/>
<path d="M886.9 3385.2l212.3-0.7 84.9-1.4 29.5-1.5 24.9-2.4 21.3-3.4 19.3-4.6 16.7-5.5 15.6-6.8 15.7-8.6 14.8-9.8 16.6-13.1 17.6-16.0 16.6-16.8 42.4-45.3 12-11.6 11.1-9.6 12.9-9.4 12-6.4 6.5-2.4 5.5-1.5 11.1-1.2 11.1 1.2 5.5 1.5 6.5 2.4 12 6.4 12.9 9.4 11.1 9.6 12 11.6 42.4 45.3 17.5 17.7 17.6 15.9 17.5 13.6 15.7 10.2 16.6 8.6 17.6 7.1 18.4 5.5 20.3 4.1 22.2 2.9 26.7 2.1 33.3 1.2 111.6 1.2 274.2 0.7" fill="none" stroke="#ff7f0e" stroke-width="7.0" stroke-linejoin="round"/>
<path d="M886.9 3385.8l529.8-0.4 68.3-0.9 12.9-0.7 9.2-1.4 4.6-1.3 4.6-2.0 3.7-2.3 3.7-3.1 6.5-8.0 5.5-10.1 5.6-13.6 5.5-17.1 16.6-62.9 5.5-18.1 2.8-7.0 2.8-5.3 2.8-3.2 2.7-1.2 2.8 1.2 2.8 3.2 2.7 5.3 2.8 7.0 5.5 18.1 16.6 62.9 5.6 17.1 5.5 13.6 5.6 10.1 6.4 8.0 3.7 3.1 3.7 2.3 8.3 3.1 8.3 1.4 12.9 0.8 62.8 0.9 492.9 0.5" fill="none" stroke="#2ca02c" stroke-width="7.0" stroke-linejoin="round"/>
<path d="M886.9 3385.7l418.1-0.3 161.5-1.0 46.1-1.2 28.7-1.7 8.3-1.1 6.4-1.4 4.6-1.7 4.7-2.5 4.6-3.9 4.6-5.8 4.6-8.7 3.7-9.6 3.7-12.6 2.8-11.7 6.4-36.7 5.6-42.8 5.5-53.6 5.5-62.8 12-147.8 5.6-59.2 3.7-30.8 2.7-17.0 2.8-10.9 1.8-3.8 1-0.7 0.9 0.0 1.8 2.2 2.8 8.9 2.8 15.0 3.7 28.6 6.4 67.7 12 147.8 5.6 62.8 5.5 53.6 5.5 42.8 5.6 32.2 2.7 12.6 3.7 13.4 3.7 10.3 3.7 7.7 3.7 5.7 4.6 5.0 3.7 2.7 4.6 2.3 5.6 1.8 6.4 1.2 20.3 1.8 35.1 1.3 51.7 0.9 75.7 0.5 309.2 0.5" fill="none" stroke="#d62728" stroke-width="7.0" stroke-linejoin="round"/>
<path d="M886.9 3385.7l458.7-0.3 174.4-1.3 48.9-1.3 31.4-2.0 9.3-1.4 6.4-1.5 5.6-2.3 4.6-2.9 4.6-4.3 4.6-6.5 4.6-9.5 3.7-10.5 3.7-13.6 3.7-17.5 6.5-41.5 5.5-48.3 6.4-71.5 5.6-72.6 12.9-184.1 5.5-68.2 3.7-35.8 2.8-20.1 1.9-9.7 1.8-6.6 1.8-3.3 1-0.4 0.9 0.4 1.8 3.3 1.9 6.6 1.8 9.7 2.8 20.1 3.7 35.8 5.5 68.2 17.6 245.2 5.5 64.2 5.5 52.3 5.6 40.4 2.7 15.9 3.7 17.5 3.7 13.6 3.7 10.5 3.7 7.8 4.6 7.1 3.7 3.9 4.6 3.4 4.6 2.3 5.6 1.7 15.7 2.4 29.5 1.8 46.2 1.3 68.3 0.8 269.5 0.7" fill="none" stroke="#9467bd" stroke-width="7.0" stroke-linejoin="round"/>
<path d="M886.9 3385.8l515-0.2 188.3-0.5 52.6-0.6 34.1-1.0 16.6-1.3 6.5-1.1 4.6-1.4 5.6-2.6 4.6-3.4 3.7-4.0 3.7-5.4 3.6-7.2 3.7-9.3 6.5-22.8 5.5-26.8 5.6-33.8 17.5-132.6 5.6-36.4 2.7-14.4 2.8-10.9 2.8-7.1 1.8-2.4 0.9-0.4 0.9 0.0 1.9 1.4 2.8 5.7 2.7 9.7 3.7 18.4 5.6 36.4 16.6 126.4 5.5 34.9 5.6 28.0 5.5 21.1 5.5 14.9 2.8 5.6 3.7 5.8 3.7 4.3 3.7 3.1 7.4 3.8 9.2 2.3 13.8 1.3 24 0.9 98.8 1.1 224.3 0.4" fill="none" stroke="#8c564b" stroke-width="7.0" stroke-linejoin="round"/>
<path d="M886.9 3385.5l466.1-0.6 132.9-0.7 88.6-0.9 44.3-1.3 29.5-1.9 24-3.4 10.2-2.2 9.2-2.7 10.2-3.8 10.1-4.9 9.2-5.6 9.3-6.9 8.3-7.4 8.3-8.7 8.3-10.1 8.3-11.6 7.4-11.5 8.3-14.4 8.3-15.9 8.3-17.2 15.7-35.7 36-87.4 10.1-22.4 8.3-16.4 10.2-16.9 5.5-7.4 4.6-5.2 5.6-4.8 4.6-2.8 4.6-1.7 4.6-0.6 3.7 0.4 4.6 1.4 4.6 2.6 4.7 3.8 4.6 4.7 4.6 5.7 10.1 15.8 9.3 17.6 9.2 19.9 42.5 102.4 10.1 23.0 10.2 21.2 12 22.5 11 18.0 11.1 15.3 12 13.6 12.9 11.7 13.9 9.4 14.7 7.2 15.7 5.3 17.6 3.7 21.2 2.7 25.8 1.6 37 1.1" fill="none" stroke="#e377c2" stroke-width="7.0" stroke-linejoin="round"/>
<path d="M886.9 3383.7l215-0.8 49.9-0.5 35-0.9 29.6-1.6 24.9-2.6 22.2-3.7 19.3-5.0 11.1-3.7 11.1-4.5 11.1-5.3 10.1-5.7 4.6-2.9 8.3-6.4 23.1-19.0 13.9-13.2 11.9-12.9 29.6-36.7 19.4-25.9 6.4-7.4 5.6-4.9 12-7.6 13.8-6.5 12.9-4.6 20.3-4.4 4.6-1.9 2.8-2.1 3.7-5.1 3.7-7.0 9.2-22.3 5.6-19.8 8.3-35.6 80.3-402.0 12.9-63.3 3.7-15.3 2.8-7.5 4.6-6.7 6.4-6.3 12.9-9.4 3.7-4.0 3.7-5.2 6.5-12.4 5.5-20.4 1.9-5.1 5.5-10.5 2.8-3.1 1.8-0.7 1 0.2 1.8 1.9 2.8 5.3 3.7 10.2 1.8 7.8 6.5 45.1 8.3 69.5 2.7 14.8 6.5 26.5 6.5 44.8 3.7 20.7 2.7 11.8 6.5 16.0 2.8 5.1 3.6 5.3 5.6 5.3 12 7.2 4.6 4.8 5.5 10.0 7.4 17.2 6.5 19.7 4.6 20.7 4.6 26.1 9.2 62.7 3.7 10.1 5.6 9.8 11 22.5 2.8 3.8 6.5 5.0 5.5 3.2 4.6 1.5 22.2 0.1 22.1-1.8 6.5 0.4 3.7 1.6 3.7 2.6 9.2 8.0 3.7 4.0 5.5 7.3 5.6 8.4 14.7 24.2 8.3 14.7 20.3 38.6 41.6 84.0 7.4 13.6 8.3 13.9 12.9 19.8 12 15.6 13.8 15.6 15.7 14.9 12.9 10.5 11.1 7.1 14.8 7.5 15.7 6.0 15.7 4.5 22.1 4.1 20.3 2.8 17.6 1.2" fill="none" stroke="#7f7f7f" stroke-width="5.8" stroke-linejoin="round"/>
</g>
<rect x="515.4" y="2438.9" width="1845.9" height="952.4" fill="none" stroke="#2a2a2a" stroke-width="4.46"/>
<path d="M515.4 3391.3v19.5M746.1 3391.3v19.5M976.9 3391.3v19.5M1207.6 3391.3v19.5M1438.3 3391.3v19.5M1669.1 3391.3v19.5M1899.8 3391.3v19.5M2130.6 3391.3v19.5M2361.3 3391.3v19.5M515.4 3391.3h-19.5M515.4 3153.2h-19.5M515.4 2915.1h-19.5M515.4 2677.0h-19.5M515.4 2438.9h-19.5" stroke="#2a2a2a" stroke-width="4.46"/>
<text x="476.4" y="3419.9" font-size="78" text-anchor="end">0</text>
<text x="476.4" y="3181.8" font-size="78" text-anchor="end">500</text>
<text x="476.4" y="2943.7" font-size="78" text-anchor="end">1,000</text>
<text x="476.4" y="2705.6" font-size="78" text-anchor="end">1,500</text>
<text x="476.4" y="2467.5" font-size="78" text-anchor="end">2,000</text>
<rect x="1863.0" y="2457.6" width="485.3" height="133" fill="#fff" fill-opacity="0.8"/>
<text x="1896.0" y="2547.6" font-size="78">5Co/10TiAl</text>
<rect x="544.7" y="2466.8" width="999.8" height="744.5" rx="8" fill="#fff" fill-opacity="0.8" stroke="#ccc" stroke-opacity="0.7" stroke-width="4.5"/>
<path d="M557.6 2512.7H678.2" stroke="#1f77b4" stroke-width="7"/>
<path d="M557.6 2596.8H678.2" stroke="#ff7f0e" stroke-width="8.2"/>
<path d="M557.6 2681.2H678.2" stroke="#2ca02c" stroke-width="8.2"/>
<path d="M557.6 2784.5H678.2" stroke="#d62728" stroke-width="8.2"/>
<path d="M557.6 2897.0H678.2" stroke="#9467bd" stroke-width="8.2"/>
<path d="M557.6 2992.6H678.2" stroke="#8c564b" stroke-width="8.2"/>
<path d="M557.6 3077.1H678.2" stroke="#e377c2" stroke-width="8.2"/>
<path d="M557.6 3160.6H678.2" stroke="#7f7f7f" stroke-width="8.2"/>
<circle cx="619" cy="2512.7" r="18" fill="#1f77b4"/>
<text x="717.0" y="2536.8" font-size="55.7">XPS Data</text>
<text x="717.0" y="2620.3" font-size="55.7">Charging Effect: 776.5 eV</text>
<text x="717.0" y="2705.3" font-size="55.7">Co2p (CoOx): 778.1 eV</text>
<text y="2804.1" font-size="55.7"><tspan x="721.0">Co2p (Co</tspan><tspan x="974.2" y="2779.3" font-size="39">3</tspan><tspan x="1008.3" font-size="39">+</tspan><tspan x="1047.6" y="2804.1">): 779.5 eV</tspan></text>
<text y="2917.4" font-size="55.7"><tspan x="721.0">Co2p (Co</tspan><tspan x="974.2" y="2892.6" font-size="39">2</tspan><tspan x="1008.3" font-size="39">+</tspan><tspan x="1047.6" y="2917.4">): 780.9 eV</tspan></text>
<text x="717.0" y="3017.6" font-size="55.7">Co2p (Shake-up 1): 782.5 eV</text>
<text x="717.0" y="3101.2" font-size="55.7">Co2p (Shake-up 2): 785.2 eV</text>
<text x="717.0" y="3184.8" font-size="55.7">Cumulative Fit</text>
<text x="1435.3" y="3497.5" font-size="78.4" text-anchor="middle">Binding Energy (eV)</text>
<g clip-path="url(#cp3)">
<path d="M884.6 4551.1l216.9-0.7 85.8-1.3 29.5-1.3 25-2.2 21.2-3.0 19.4-4.1 16.6-4.9 15.7-6.1 15.7-7.7 14.7-8.8 16.6-11.8 17.6-14.4 17.5-16.0 41.5-40.0 12-10.6 11.1-8.7 12.9-8.5 13-6.2 12-3.4 11-1.0 11.1 1.1 12 3.6 12 5.9 12.9 8.5 11.1 8.7 12 10.6 41.5 40.0 17.6 16.0 17.5 14.4 17.5 12.4 16.7 9.7 16.6 7.7 17.5 6.4 18.5 4.9 20.3 3.7 22.1 2.6 26.8 1.8 33.2 1.1 111.7 1.1 270.4 0.6V4557.1H884.6Z" fill="#1f77b4" fill-opacity="0.3"/>
<path d="M884.6 4551.6l520.5-0.4 65.6-0.7 13.8-0.6 10.1-1.1 10.2-2.5 8.3-4.0 7.4-5.8 6.5-7.4 6.4-9.9 6.5-12.3 18.4-42.7 6.5-13.3 3.7-6.1 3.7-4.5 3.7-2.7 2.7-0.8 2.8 0.4 3.7 2.2 3.7 4.1 3.7 5.7 6.4 12.9 19.4 44.8 6.5 12.3 6.4 9.9 6.5 7.4 7.4 5.8 8.3 4.0 9.2 2.3 10.2 1.2 12.9 0.7 60 0.7 483.6 0.4V4557.1H884.6Z" fill="#ff7f0e" fill-opacity="0.3"/>
<path d="M884.6 4551.5l419-0.3 162.4-1.0 45.3-1.0 28.6-1.6 14.7-2.3 5.6-1.8 4.6-2.4 4.6-3.6 4.6-5.4 4.6-7.8 3.7-8.6 3.7-11.2 3.7-14.3 6.5-33.8 5.5-38.9 5.5-48.3 18.5-197.8 5.5-51.8 3.7-26.8 2.8-14.8 2.8-9.5 1.8-3.2 0.9-0.6 1 0.0 1.8 1.9 1.9 4.5 1.8 6.9 2.8 14.8 3.7 26.8 5.5 51.8 18.5 197.8 5.5 48.3 5.5 38.9 6.5 33.8 2.8 11.0 3.7 12.0 3.7 9.2 3.6 7.0 3.7 5.1 4.6 4.6 3.7 2.6 4.7 2.2 5.5 1.7 6.5 1.2 19.3 1.6 35.1 1.3 127.4 1.3 307.3 0.5V4557.1H884.6Z" fill="#2ca02c" fill-opacity="0.3"/>
<path d="M884.6 4551.5l454.1-0.5 106.1-0.5 70.2-0.9 48.9-1.5 31.4-2.2 9.2-1.5 6.4-1.7 5.6-2.3 5.5-3.6 5.6-5.6 5.5-8.8 4.6-10.7 3.7-11.4 3.7-14.5 3.7-18.1 3.7-22.4 3.7-27.0 6.4-59.1 6.5-74.2 19.4-272.1 6.4-78.9 3.7-34.9 2.8-19.8 1.8-9.8 1.9-6.9 1.8-3.8 1-0.8 0.9 0.0 1.8 2.3 1.9 5.4 1.8 8.4 3.7 25.0 3.7 34.9 6.5 78.9 19.3 272.1 6.5 74.2 5.5 51.6 6.5 46.2 6.5 32.8 3.6 13.7 3.7 10.6 3.7 8.3 4.6 7.5 3.7 4.4 4.7 3.9 5.5 3.1 5.5 2.0 6.5 1.5 9.2 1.3 26.8 1.9 46.1 1.5 68.3 1.0 264.9 0.8V4557.1H884.6Z" fill="#d62728" fill-opacity="0.3"/>
<path d="M884.6 4551.5l506.7-0.2 190.1-0.8 52.6-0.8 34.2-1.4 16.6-1.8 5.5-1.3 5.6-2.1 5.5-3.4 4.6-4.2 4.6-6.0 3.7-6.5 3.7-8.4 3.7-10.6 3.7-13.2 3.7-16.1 6.4-35.5 6.5-45.2 18.5-158.8 6.4-49.2 3.7-21.8 2.8-12.5 1.8-6.1 1.9-4.4 1.8-2.4 0.9-0.5 1 0.0 1.8 1.5 1.9 3.4 1.8 5.2 3.7 15.8 3.7 21.8 6.4 49.2 17.6 151.7 6.4 46.4 5.6 32.3 5.5 25.2 6.5 21.4 2.7 6.8 3.7 7.5 3.7 5.7 4.6 5.2 3.7 3.0 3.7 2.2 4.6 2.0 5.6 1.5 12.9 1.8 21.2 1.2 40.6 1.0 58.2 0.7 222.4 0.6V4557.1H884.6Z" fill="#9467bd" fill-opacity="0.3"/>
<path d="M884.6 4551.3l474.4-0.7 134.7-0.8 90.5-1.0 45.2-1.3 29.5-2.1 13-1.7 11-2.0 10.2-2.5 9.2-3.0 10.2-4.2 10.1-5.6 9.2-6.3 9.3-7.9 8.3-8.5 8.3-10.1 8.3-11.7 8.3-13.4 7.4-13.5 8.3-16.9 15.7-36.5 15.7-41.5 35-98.9 9.3-23.6 8.3-19.1 10.1-19.6 5.6-8.6 4.6-5.9 4.6-4.6 4.6-3.4 4.6-2.1 4.6-0.6 3.7 0.4 4.7 1.8 4.6 3.1 4.6 4.4 4.6 5.6 4.6 6.9 9.2 16.8 8.3 18.2 10.2 25.4 40.6 113.9 10.2 26.8 10.1 24.7 11.1 24.1 11.1 21.1 11 17.8 12 15.8 6.5 7.1 6.5 6.3 12.9 10.2 7.4 4.5 7.3 3.8 15.7 6.0 17.6 4.2 20.3 2.9 25.8 1.8 36 1.2V4557.1H884.6Z" fill="#8c564b" fill-opacity="0.3"/>
<path d="M515.4 3600.3V4557.1M746.1 3600.3V4557.1M976.9 3600.3V4557.1M1207.6 3600.3V4557.1M1438.3 3600.3V4557.1M1669.1 3600.3V4557.1M1899.8 3600.3V4557.1M2130.6 3600.3V4557.1M2361.3 3600.3V4557.1M515.4 4557.1H2361.3M515.4 4317.9H2361.3M515.4 4078.7H2361.3M515.4 3839.5H2361.3M515.4 3600.3H2361.3" stroke="#b0b0b0" stroke-width="4.46" fill="none"/>
<path d="M884.6 4501.1l9.2-2.6 9.2 4.2 9.3-0.1 4.6 2.1 4.6 0.5 4.6-1.2 4.6 0.2 18.5 3.5 9.2 3.9 4.6 0.3 4.6 2.7 4.7 5.6 4.6 3.4 13.8 8.2 4.6 0.7 9.3-3.4 4.6 1.8 4.6 3.1 4.6 1.2 13.9 1.1 4.6 1.5 13.8-1.0 9.2 2.8 9.3-1.1 9.2 1.2 4.6 2.2 4.6 1.0 4.6-2.4 4.7-1.0 4.6 1.1 9.2 0.6 9.2 4.4 9.3 0.5 4.6 1.7 4.6 0.2 4.6 1.3 4.6-0.7 4.6-4.2 9.3-4.6 9.2-9.9 4.6-1.4 13.9 3.0 4.6 2.0 13.8 2.3 4.6-0.8 13.9-4.8 36.9-26.8 4.6-4.5 9.2-13.9 4.6-3.5 4.7 0.5 4.6-2.1 4.6-4.5 4.6-3.0 9.2-2.7 13.9-6.3 18.4-2.0 4.7 0.3 27.6 11.7 18.5-0.4 13.8-1.5 13.9-8.0 4.6-3.9 36.9-44.4 4.6-7.2 9.3-17.7 9.2-13.0 4.6-4.5 4.6-3.1 9.3-10.0 18.4-14.6 9.2-12.0 9.3-18.9 4.6-12.6 23.1-75.7 18.4-44.6 4.6-13.9 4.7-17.5 9.2-44.2 9.2-58.1 13.9-101.7 23-135.4 4.6-22.1 13.9-60.6 4.6-10.0 9.2-15.6 4.6-14.1 4.7-3.8 4.6 6.1 4.6 0.6 4.6-4.5 4.6 1.7 4.6 7.1 4.6 13.0 4.7 9.0 4.6 13.4 13.8 32.4 13.9 52.5 9.2 39.7 4.6 12.6 9.2 21.0 18.5 62.2 9.2 43.9 23.1 123.5 9.2 38.7 9.3 25.9 13.8 25.7 4.6 3.2 18.5-0.7 9.2-7.8 4.6-1.3 4.6-0.2 4.7-2.5 4.6 0.5 4.6 4.4 9.2 1.6 9.2 12.4 4.7 3.1 4.6 1.0 4.6 2.3 4.6 6.6 4.6 10.7 9.2 26.7 9.3 18.5 4.6 6.8 13.8 11.9 9.3 10.3 36.9 56.2 23.1 25.0 9.2 17.6 9.2 11.9 9.2 6.0 9.3 12.7 4.6 3.2 4.6 1.2 9.2 7.3 9.3-0.2 9.2 5.7 9.2 4.1 9.3 5.9 9.2 2.5 4.6 0.7 4.6-0.6 4.6 2.7 9.3 14.2 13.8 14.6 13.8 20.5 9.3 7.7" fill="none" stroke="#1f77b4" stroke-width="37.5" stroke-linejoin="round" stroke-linecap="round"/>
<path d="M884.6 4551.1l216.9-0.7 85.8-1.3 29.5-1.3 25-2.2 21.2-3.0 19.4-4.1 16.6-4.9 15.7-6.1 15.7-7.7 14.7-8.8 16.6-11.8 17.6-14.4 17.5-16.0 41.5-40.0 12-10.6 11.1-8.7 12.9-8.5 13-6.2 12-3.4 11-1.0 11.1 1.1 12 3.6 12 5.9 12.9 8.5 11.1 8.7 12 10.6 41.5 40.0 17.6 16.0 17.5 14.4 17.5 12.4 16.7 9.7 16.6 7.7 17.5 6.4 18.5 4.9 20.3 3.7 22.1 2.6 26.8 1.8 33.2 1.1 111.7 1.1 270.4 0.6" fill="none" stroke="#ff7f0e" stroke-width="7.0" stroke-linejoin="round"/>
<path d="M884.6 4551.6l520.5-0.4 65.6-0.7 13.8-0.6 10.1-1.1 10.2-2.5 8.3-4.0 7.4-5.8 6.5-7.4 6.4-9.9 6.5-12.3 18.4-42.7 6.5-13.3 3.7-6.1 3.7-4.5 3.7-2.7 2.7-0.8 2.8 0.4 3.7 2.2 3.7 4.1 3.7 5.7 6.4 12.9 19.4 44.8 6.5 12.3 6.4 9.9 6.5 7.4 7.4 5.8 8.3 4.0 9.2 2.3 10.2 1.2 12.9 0.7 60 0.7 483.6 0.4" fill="none" stroke="#2ca02c" stroke-width="7.0" stroke-linejoin="round"/>
<path d="M884.6 4551.5l419-0.3 162.4-1.0 45.3-1.0 28.6-1.6 14.7-2.3 5.6-1.8 4.6-2.4 4.6-3.6 4.6-5.4 4.6-7.8 3.7-8.6 3.7-11.2 3.7-14.3 6.5-33.8 5.5-38.9 5.5-48.3 18.5-197.8 5.5-51.8 3.7-26.8 2.8-14.8 2.8-9.5 1.8-3.2 0.9-0.6 1 0.0 1.8 1.9 1.9 4.5 1.8 6.9 2.8 14.8 3.7 26.8 5.5 51.8 18.5 197.8 5.5 48.3 5.5 38.9 6.5 33.8 2.8 11.0 3.7 12.0 3.7 9.2 3.6 7.0 3.7 5.1 4.6 4.6 3.7 2.6 4.7 2.2 5.5 1.7 6.5 1.2 19.3 1.6 35.1 1.3 127.4 1.3 307.3 0.5" fill="none" stroke="#d62728" stroke-width="7.0" stroke-linejoin="round"/>
<path d="M884.6 4551.5l454.1-0.5 106.1-0.5 70.2-0.9 48.9-1.5 31.4-2.2 9.2-1.5 6.4-1.7 5.6-2.3 5.5-3.6 5.6-5.6 5.5-8.8 4.6-10.7 3.7-11.4 3.7-14.5 3.7-18.1 3.7-22.4 3.7-27.0 6.4-59.1 6.5-74.2 19.4-272.1 6.4-78.9 3.7-34.9 2.8-19.8 1.8-9.8 1.9-6.9 1.8-3.8 1-0.8 0.9 0.0 1.8 2.3 1.9 5.4 1.8 8.4 3.7 25.0 3.7 34.9 6.5 78.9 19.3 272.1 6.5 74.2 5.5 51.6 6.5 46.2 6.5 32.8 3.6 13.7 3.7 10.6 3.7 8.3 4.6 7.5 3.7 4.4 4.7 3.9 5.5 3.1 5.5 2.0 6.5 1.5 9.2 1.3 26.8 1.9 46.1 1.5 68.3 1.0 264.9 0.8" fill="none" stroke="#9467bd" stroke-width="7.0" stroke-linejoin="round"/>
<path d="M884.6 4551.5l506.7-0.2 190.1-0.8 52.6-0.8 34.2-1.4 16.6-1.8 5.5-1.3 5.6-2.1 5.5-3.4 4.6-4.2 4.6-6.0 3.7-6.5 3.7-8.4 3.7-10.6 3.7-13.2 3.7-16.1 6.4-35.5 6.5-45.2 18.5-158.8 6.4-49.2 3.7-21.8 2.8-12.5 1.8-6.1 1.9-4.4 1.8-2.4 0.9-0.5 1 0.0 1.8 1.5 1.9 3.4 1.8 5.2 3.7 15.8 3.7 21.8 6.4 49.2 17.6 151.7 6.4 46.4 5.6 32.3 5.5 25.2 6.5 21.4 2.7 6.8 3.7 7.5 3.7 5.7 4.6 5.2 3.7 3.0 3.7 2.2 4.6 2.0 5.6 1.5 12.9 1.8 21.2 1.2 40.6 1.0 58.2 0.7 222.4 0.6" fill="none" stroke="#8c564b" stroke-width="7.0" stroke-linejoin="round"/>
<path d="M884.6 4551.3l474.4-0.7 134.7-0.8 90.5-1.0 45.2-1.3 29.5-2.1 13-1.7 11-2.0 10.2-2.5 9.2-3.0 10.2-4.2 10.1-5.6 9.2-6.3 9.3-7.9 8.3-8.5 8.3-10.1 8.3-11.7 8.3-13.4 7.4-13.5 8.3-16.9 15.7-36.5 15.7-41.5 35-98.9 9.3-23.6 8.3-19.1 10.1-19.6 5.6-8.6 4.6-5.9 4.6-4.6 4.6-3.4 4.6-2.1 4.6-0.6 3.7 0.4 4.7 1.8 4.6 3.1 4.6 4.4 4.6 5.6 4.6 6.9 9.2 16.8 8.3 18.2 10.2 25.4 40.6 113.9 10.2 26.8 10.1 24.7 11.1 24.1 11.1 21.1 11 17.8 12 15.8 6.5 7.1 6.5 6.3 12.9 10.2 7.4 4.5 7.3 3.8 15.7 6.0 17.6 4.2 20.3 2.9 25.8 1.8 36 1.2" fill="none" stroke="#e377c2" stroke-width="7.0" stroke-linejoin="round"/>
<path d="M884.6 4549.6l217.8-0.7 85.8-1.3 31.4-1.5 24.9-2.3 23.1-3.5 11.1-3.4 15.7-5.5 12-6.0 22.1-13.9 13.9-10.2 30.4-25.7 21.2-19.0 13.9-13.1 24-24.5 11.1-10.5 63.6-51.5 7.4-6.6 6.5-6.9 5.5-6.6 5.6-7.9 5.5-9.6 2.8-6.3 4.6-13.0 10.1-33.1 12-42.2 4.7-11.6 12.9-26.9 3.7-10.3 4.6-16.1 8.3-35.8 5.5-29.0 9.3-58.1 12-90.8 3.6-20.5 15.7-78.6 3.7-15.3 3.7-12.8 7.4-22.9 9.2-26.2 7.4-26.4 4.6-20.6 7.4-45.9 2.8-13.1 4.6-16.3 3.7-11.1 3.7-7.1 1.8-1.3 1 0.0 1.8 1.1 1.8 2.6 3.7 8.6 4.6 15.7 4.7 19.1 1.8 12.0 5.5 48.6 1.9 12.8 19.4 100.8 2.7 8.0 3.7 6.8 8.3 11.2 7.4 8.4 3.7 5.5 3.7 8.3 4.6 14.3 10.2 36.3 6.4 27.0 25.9 131.0 6.4 28.9 4.7 16.9 4.6 11.9 3.7 7.5 2.7 3.9 6.5 6.8 3.7 2.8 3.7 1.4 3.7-0.2 4.6-1.5 11.1-5.1 11-6.7 2.8-1.0 2.8-0.3 12.9 0.8 7.4 2.0 6.4 3.9 10.2 9.0 6.4 7.3 8.4 11.4 15.6 27.8 3.7 4.5 8.3 8.2 4.7 7.0 6.4 13.2 14.8 36.0 16.6 36.8 31.4 65.9 9.2 17.4 14.8 25.2 9.2 13.9 9.2 12.0 13.9 15.3 18.4 17.4 11.1 8.8 11.1 6.1 8.3 3.7 7.4 2.6 19.4 4.6 23 3.9 19.4 1.3" fill="none" stroke="#7f7f7f" stroke-width="5.8" stroke-linejoin="round"/>
</g>
<rect x="515.4" y="3600.3" width="1845.9" height="956.8" fill="none" stroke="#2a2a2a" stroke-width="4.46"/>
<path d="M515.4 4557.1v19.5M746.1 4557.1v19.5M976.9 4557.1v19.5M1207.6 4557.1v19.5M1438.3 4557.1v19.5M1669.1 4557.1v19.5M1899.8 4557.1v19.5M2130.6 4557.1v19.5M2361.3 4557.1v19.5M515.4 4557.1h-19.5M515.4 4317.9h-19.5M515.4 4078.7h-19.5M515.4 3839.5h-19.5M515.4 3600.3h-19.5" stroke="#2a2a2a" stroke-width="4.46"/>
<text x="476.4" y="4585.7" font-size="78" text-anchor="end">0</text>
<text x="476.4" y="4346.5" font-size="78" text-anchor="end">500</text>
<text x="476.4" y="4107.3" font-size="78" text-anchor="end">1,000</text>
<text x="476.4" y="3868.1" font-size="78" text-anchor="end">1,500</text>
<text x="476.4" y="3628.9" font-size="78" text-anchor="end">2,000</text>
<rect x="1863.0" y="3620.9" width="489.6" height="133" fill="#fff" fill-opacity="0.8"/>
<text x="1896.0" y="3710.9" font-size="78">5Co/10SiAl</text>
<rect x="544.7" y="3628.4" width="999.8" height="744.5" rx="8" fill="#fff" fill-opacity="0.8" stroke="#ccc" stroke-opacity="0.7" stroke-width="4.5"/>
<path d="M557.6 3674.3H678.2" stroke="#1f77b4" stroke-width="7"/>
<path d="M557.6 3758.4H678.2" stroke="#ff7f0e" stroke-width="8.2"/>
<path d="M557.6 3842.8H678.2" stroke="#2ca02c" stroke-width="8.2"/>
<path d="M557.6 3946.1H678.2" stroke="#d62728" stroke-width="8.2"/>
<path d="M557.6 4058.6H678.2" stroke="#9467bd" stroke-width="8.2"/>
<path d="M557.6 4154.2H678.2" stroke="#8c564b" stroke-width="8.2"/>
<path d="M557.6 4238.7H678.2" stroke="#e377c2" stroke-width="8.2"/>
<path d="M557.6 4322.2H678.2" stroke="#7f7f7f" stroke-width="8.2"/>
<circle cx="619" cy="3674.3" r="18" fill="#1f77b4"/>
<text x="717.0" y="3698.4" font-size="55.7">XPS Data</text>
<text x="717.0" y="3781.9" font-size="55.7">Charging Effect: 776.6 eV</text>
<text x="717.0" y="3866.9" font-size="55.7">Co2p (CoOx): 778.1 eV</text>
<text y="3965.7" font-size="55.7"><tspan x="721.0">Co2p (Co</tspan><tspan x="974.2" y="3940.9" font-size="39">3</tspan><tspan x="1008.3" font-size="39">+</tspan><tspan x="1047.6" y="3965.7">): 779.5 eV</tspan></text>
<text y="4079.0" font-size="55.7"><tspan x="721.0">Co2p (Co</tspan><tspan x="974.2" y="4054.2" font-size="39">2</tspan><tspan x="1008.3" font-size="39">+</tspan><tspan x="1047.6" y="4079.0">): 780.9 eV</tspan></text>
<text x="717.0" y="4179.2" font-size="55.7">Co2p (Shake-up 1): 782.4 eV</text>
<text x="717.0" y="4262.8" font-size="55.7">Co2p (Shake-up 2): 785.4 eV</text>
<text x="717.0" y="4346.4" font-size="55.7">Cumulative Fit</text>
<text x="515.4" y="4655.5" font-size="78" text-anchor="middle">755</text>
<text x="746.1" y="4655.5" font-size="78" text-anchor="middle">760</text>
<text x="976.9" y="4655.5" font-size="78" text-anchor="middle">765</text>
<text x="1207.6" y="4655.5" font-size="78" text-anchor="middle">770</text>
<text x="1438.3" y="4655.5" font-size="78" text-anchor="middle">775</text>
<text x="1669.1" y="4655.5" font-size="78" text-anchor="middle">780</text>
<text x="1899.8" y="4655.5" font-size="78" text-anchor="middle">785</text>
<text x="2130.6" y="4655.5" font-size="78" text-anchor="middle">790</text>
<text x="2361.3" y="4655.5" font-size="78" text-anchor="middle">795</text>
<text x="1435.3" y="4754.6" font-size="78.4" text-anchor="middle">Binding Energy (eV)</text>
</g>
<text transform="translate(26.5 147.2) scale(0.972 1)" font-family="Liberation Sans, sans-serif" font-weight="bold" font-size="144">(d)</text>
</g>
</svg></body></html>
